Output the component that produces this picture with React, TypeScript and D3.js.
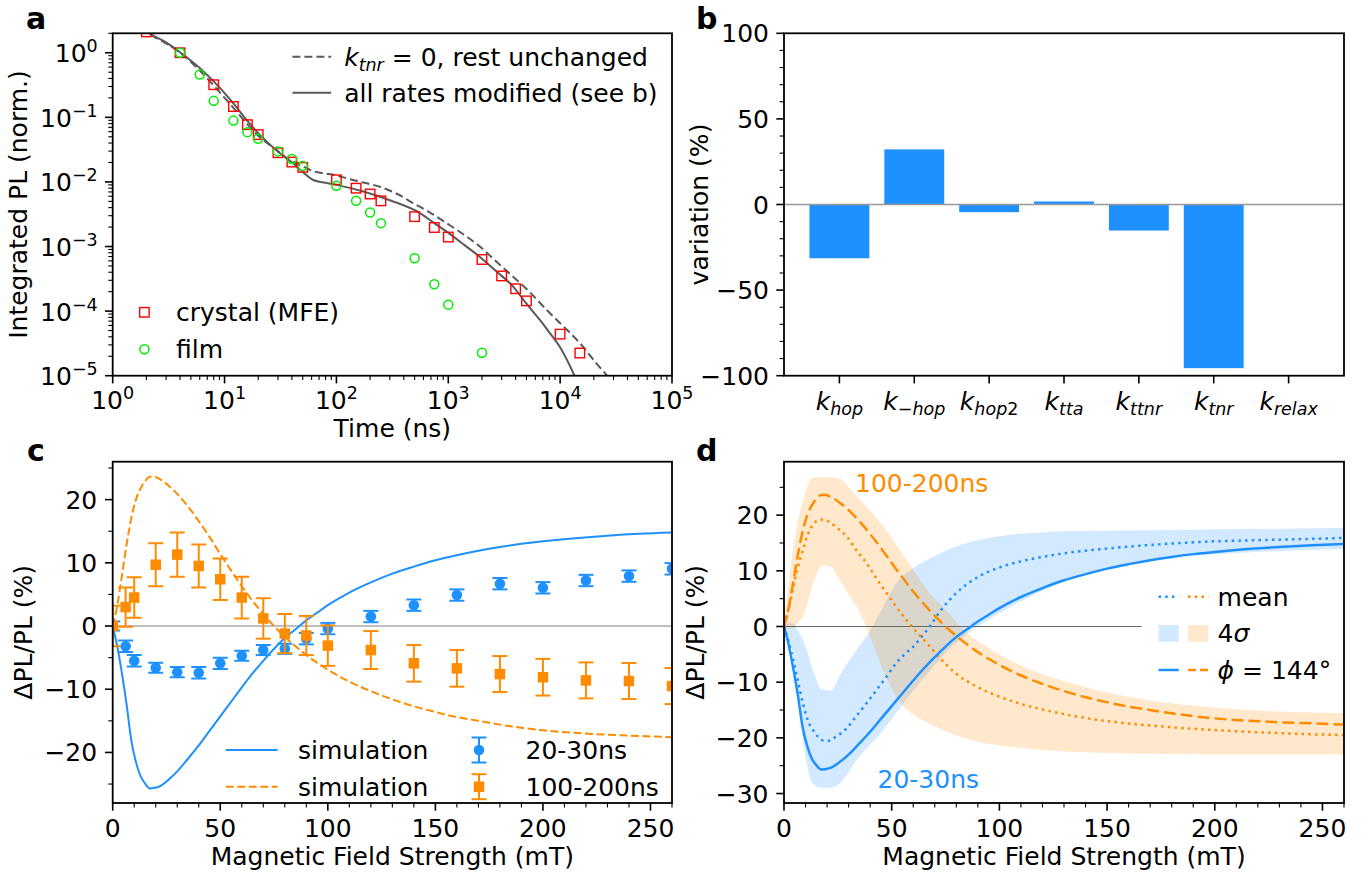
import React from 'react';
import * as d3 from 'd3';

const FONT = "'DejaVu Sans', 'Liberation Sans', sans-serif";
const FS = 25;
const SUB = 17.5;
const BLUE = '#1e90ff';
const ORANGE = '#ff8c00';
const MINUS = '\u2212';

// ---------------- panel a ----------------
const crystalTime = [2, 4, 8, 12, 16, 20, 30, 40, 50, 100, 150, 200, 250, 500, 750, 1000, 2000, 3000, 4000, 5000, 10000, 15000];
const crystalPL = [2.1, 1.0, 0.32, 0.147, 0.077, 0.054, 0.0283, 0.0203, 0.0168, 0.0108, 0.008, 0.0065, 0.0051, 0.0029, 0.00197, 0.0014, 0.00063, 0.00035, 0.000222, 0.000144, 0.000044, 0.0000224];
const filmTime = [4, 6, 8, 12, 16, 20, 30, 40, 50, 100, 150, 200, 250, 500, 750, 1000, 2000];
const filmPL = [1.0, 0.46, 0.18, 0.089, 0.059, 0.0466, 0.0297, 0.0226, 0.0176, 0.0087, 0.0051, 0.00336, 0.0023, 0.00066, 0.00026, 0.000126, 0.0000226];
const fitAllTime = [1.8, 2, 3, 4, 6, 8, 12, 16, 20, 31, 41, 50, 62, 80, 100, 174, 300, 557, 750, 966, 1400, 1915, 2700, 3800, 5000, 6590, 8000, 9930, 13100, 14000];
const fitAllPL = [2.5, 2.15, 1.45, 1.02, 0.58, 0.36, 0.165, 0.088, 0.057, 0.028, 0.0194, 0.0142, 0.0107, 0.0097, 0.009, 0.0071, 0.0052, 0.0033, 0.0023, 0.0017, 0.00105, 0.00069, 0.00041, 0.00024, 0.00013, 0.000073, 0.000047, 0.000028, 0.000011, 0.0000085];
const fitNoTnrTime = [1.8, 2, 3, 4, 6, 8, 12, 16, 20, 30, 36, 50, 62, 80, 100, 123, 170, 245, 350, 486, 700, 966, 1400, 1915, 2700, 3800, 5300, 7550, 10000, 15000, 21000, 28000, 30000];
const fitNoTnrPL = [2.45, 2.1, 1.4, 1.0, 0.53, 0.31, 0.14, 0.078, 0.052, 0.03, 0.0232, 0.0175, 0.0146, 0.0135, 0.0126, 0.0114, 0.0099, 0.0084, 0.0065, 0.0047, 0.0033, 0.0023, 0.0015, 0.001, 0.00058, 0.00034, 0.0002, 0.000105, 0.000065, 0.000032, 0.0000156, 0.0000085, 0.000007];

// ---------------- panel b ----------------
const rateSubs = ['hop', '-hop', 'hop2', 'tta', 'ttnr', 'tnr', 'relax'];
const rateVariation = [-31.4, 32.2, -4.5, 1.75, -15.2, -95.6, 0];

// ---------------- panel c ----------------
const fieldMeas = [0, 6, 10, 20, 30, 40, 50, 60, 70, 80, 90, 100, 120, 140, 160, 180, 200, 220, 240, 260];
const dpl2030 = [0, -3.2, -5.5, -6.6, -7.3, -7.4, -5.9, -4.7, -3.8, -3.6, -2.0, -0.4, 1.5, 3.3, 4.9, 6.7, 6.05, 7.2, 7.9, 9.05];
const err2030 = [0.7, 0.9, 0.9, 0.8, 0.8, 0.9, 0.9, 0.8, 0.8, 0.8, 0.9, 0.9, 0.9, 0.9, 0.9, 0.9, 0.9, 0.9, 0.9, 0.9];
const dpl100200 = [0, 3.0, 4.5, 9.7, 11.3, 9.5, 7.4, 4.5, 1.2, -1.2, -1.5, -3.1, -3.8, -5.9, -6.7, -7.6, -8.1, -8.6, -8.7, -9.5];
const err100200 = [3.2, 3.1, 3.2, 3.4, 3.5, 3.4, 3.3, 3.3, 3.2, 3.1, 3.1, 3.2, 3.0, 2.9, 2.9, 2.85, 2.9, 2.85, 2.85, 2.85];
const fieldSim = [0, 2, 4.3, 6.5, 8.6, 10.8, 13, 15, 17.3, 19.5, 21.6, 26, 30, 35, 40, 45, 50, 55, 60, 65, 70, 75, 80, 85, 90, 95, 100, 110, 120, 130, 140, 150, 160, 170, 180, 190, 200, 215, 230, 245, 260];
const sim2030 = [0, -3, -7.5, -12.5, -18, -21.5, -23.8, -24.9, -25.7, -25.6, -25.4, -24.3, -23, -21, -18.9, -16.6, -14.3, -12, -9.7, -7.5, -5.5, -3.6, -1.9, -0.5, 0.9, 2.1, 3.3, 5.3, 6.9, 8.3, 9.4, 10.4, 11.2, 11.9, 12.5, 13.0, 13.4, 13.9, 14.3, 14.6, 14.8];
const sim100200 = [0, 3, 8, 13, 17, 20, 21.8, 22.9, 23.6, 23.6, 23.3, 22.2, 20.9, 18.9, 16.6, 14.1, 11.4, 8.8, 6.3, 4.0, 1.9, 0, -1.7, -3.2, -4.6, -5.8, -6.9, -8.8, -10.3, -11.6, -12.7, -13.6, -14.4, -15.0, -15.6, -16.1, -16.5, -16.9, -17.2, -17.4, -17.6];

// ---------------- panel d ----------------
const fieldMean = [0, 2, 4, 6, 8.8, 11, 13.5, 16, 18.5, 21, 24, 29, 34, 38.3, 43, 47.6, 52, 56.8, 60, 64, 67.7, 72, 80, 90, 100, 110, 120, 135, 150, 165, 180, 200, 220, 240, 260];
const mean100200 = [0.3, 3, 6.5, 10, 13.8, 16.5, 18.3, 19.1, 19.2, 18.8, 17.9, 16.2, 13.5, 11.4, 8.6, 6, 3.6, 1.2, -0.3, -2, -3.6, -5.5, -8.5, -10.9, -12.6, -13.9, -14.9, -16.1, -17, -17.6, -18.1, -18.6, -19, -19.3, -19.5];
const mean2030 = [0, -2.5, -5.5, -9, -13.8, -16.8, -18.6, -19.9, -20.5, -20.5, -19.8, -18.3, -15.9, -13.8, -11.4, -9, -6.6, -4.7, -3.6, -1.8, 0, 2.5, 6.0, 8.9, 10.6, 11.7, 12.5, 13.4, 14.0, 14.5, 14.9, 15.3, 15.5, 15.7, 15.9];
const fieldBandBlue = [0, 2, 4.2, 6.5, 8.8, 10.8, 12.7, 15, 17.3, 22, 25.9, 30.5, 34, 38.3, 44.5, 52.2, 60, 67.7, 76, 88, 100, 115, 130, 150, 170, 190, 215, 240, 260];
const band2030Hi = [0.3, 0.6, 0.6, -0.8, -2.4, -4.5, -7, -9.5, -11.3, -11.5, -8.8, -6, -4, -1.8, 2.4, 7.8, 10.5, 12.2, 13.8, 15.3, 16.2, 16.8, 17.1, 17.2, 17.3, 17.4, 17.5, 17.6, 17.7];
const band2030Lo = [-0.5, -2.5, -4.8, -12, -20.4, -25, -27.8, -28.7, -29.0, -28.9, -28.2, -25.8, -23.8, -21.9, -19.3, -15.5, -11.5, -8, -4.3, -0.5, 2.4, 5.5, 8, 10.3, 11.8, 12.7, 13.3, 13.7, 13.9];
const fieldBandOrange = [0, 2, 4.2, 6.5, 8.8, 10.8, 12.7, 15, 17.3, 21.2, 25.9, 30, 35.2, 41.4, 47.6, 53.7, 60, 67.7, 75, 85, 97, 110, 125, 140, 160, 180, 200, 220, 240, 260];
const band100200Hi = [1.2, 7, 14, 19, 22.5, 25, 26.6, 26.8, 26.8, 26.8, 26.6, 25, 22.8, 20.2, 17.2, 13.8, 10.2, 6, 3, -1.2, -4.3, -7, -9.2, -10.9, -12.6, -13.8, -14.6, -15.1, -15.4, -15.6];
const band100200Lo = [-0.3, -0.4, -0.3, 0.8, 1.8, 4, 6.8, 9.2, 11, 10.8, 8.4, 5.8, 2.5, -3.3, -9.2, -13.5, -15.8, -17.5, -18.8, -20.2, -21.2, -21.8, -22.3, -22.6, -22.8, -22.9, -23, -23, -23, -23];

// tick values
const aMajorX = [0, 1, 2, 3, 4, 5];
const aMajorY = [-5, -4, -3, -2, -1, 0];
const cMajorX = [0, 50, 100, 150, 200, 250];
const cMajorY = [-20, -10, 0, 10, 20];
const dMajorY = [-30, -20, -10, 0, 10, 20];
const bMajorY = [-100, -50, 0, 50, 100];

// geometry
const L1 = 112.7, R1 = 672, L2 = 784, R2 = 1344;
const T1 = 33.3, B1 = 375.7, T2 = 461.7, B2 = 803;
const TL = 7.7, TLm = 4.4;

const fmt = (v: number) => (v < 0 ? MINUS + Math.abs(v) : String(v));
const zip = (a: number[], b: number[]) => a.map((v, i) => [v, b[i]] as [number, number]);

function Frame({ x0, x1, y0, y1 }: any) {
  return <rect x={x0} y={y0} width={x1 - x0} height={y1 - y0} fill="none" stroke="#000" strokeWidth={1.8} />;
}

export default function App() {
  const xA = d3.scaleLog().domain([1, 1e5]).range([L1, R1]);
  const yA = d3.scaleLog().domain([1e-5, 2]).range([B1, T1]);
  const xB = d3.scaleLinear().domain([-0.74, 6.74]).range([L2, R2]);
  const yB = d3.scaleLinear().domain([-100, 100]).range([B1, T1]);
  const xC = d3.scaleLinear().domain([0, 260]).range([L1, R1]);
  const yC = d3.scaleLinear().domain([-28, 26]).range([B2, T2]);
  const xD = d3.scaleLinear().domain([0, 260]).range([L2, R2]);
  const yD = d3.scaleLinear().domain([-31.7, 29.6]).range([B2, T2]);

  const lineA = d3.line<[number, number]>().x(d => xA(d[0])).y(d => yA(d[1])).curve(d3.curveMonotoneX);
  const lineC = d3.line<[number, number]>().x(d => xC(d[0])).y(d => yC(d[1])).curve(d3.curveMonotoneX);
  const lineD = d3.line<[number, number]>().x(d => xD(d[0])).y(d => yD(d[1])).curve(d3.curveMonotoneX);
  const areaD = d3.area<[number, number, number]>().x(d => xD(d[0])).y0(d => yD(d[1])).y1(d => yD(d[2])).curve(d3.curveMonotoneX);

  const aMinorX: number[] = [];
  for (let e = 0; e < 5; e++) for (let k = 2; k <= 9; k++) aMinorX.push(k * Math.pow(10, e));
  const aMinorY: number[] = [];
  for (let e = -5; e <= 0; e++) for (let k = 2; k <= 9; k++) { const v = k * Math.pow(10, e); if (v <= 2.0001) aMinorY.push(v); }
  const minorLinear = (lo: number, hi: number, step: number, majors: number[]) => d3.range(lo, hi + 0.001, step).filter(v => !majors.includes(v));
  const cMinorX = minorLinear(0, 260, 10, cMajorX);
  const cMinorY = [-25, -15, -5, 5, 15, 25];
  const dMinorY = [-25, -15, -5, 5, 15, 25];
  const bMinorY = minorLinear(-100, 100, 10, bMajorY);

  const xTickMarks = (sc: (v: number) => number, vals: number[], y: number, len: number, w: number, key: string) =>
    vals.map((v, i) => <line key={key + i} x1={sc(v)} x2={sc(v)} y1={y} y2={y + len} stroke="#000" strokeWidth={w} />);
  const yTickMarks = (sc: (v: number) => number, vals: number[], x: number, len: number, w: number, key: string) =>
    vals.map((v, i) => <line key={key + i} x1={x} x2={x - len} y1={sc(v)} y2={sc(v)} stroke="#000" strokeWidth={w} />);

  const pow10 = (e: number) => Math.pow(10, e);
  const supLabel = (e: number) => (e < 0 ? MINUS + Math.abs(e) : String(e));

  const markerSquare = (cx: number, cy: number, s: number, props: any, key: string) =>
    <rect key={key} x={cx - s / 2} y={cy - s / 2} width={s} height={s} {...props} />;

  const subLabel = (s: string) => {
    if (s.startsWith('-')) return [<tspan key="m" fontStyle="normal">{MINUS}</tspan>, <tspan key="t" fontStyle="italic">{s.slice(1)}</tspan>];
    const m = s.match(/^([a-z]+)(\d*)$/);
    if (m && m[2]) return [<tspan key="t" fontStyle="italic">{m[1]}</tspan>, <tspan key="d" fontStyle="normal">{m[2]}</tspan>];
    return [<tspan key="t" fontStyle="italic">{s}</tspan>];
  };

  const errBar = (cx: number, cy0: number, cy1: number, color: string, key: string) => (
    <g key={key}>
      <line x1={cx} x2={cx} y1={cy0} y2={cy1} stroke={color} strokeWidth={2} />
      <line x1={cx - 7.5} x2={cx + 7.5} y1={cy0} y2={cy0} stroke={color} strokeWidth={2} />
      <line x1={cx - 7.5} x2={cx + 7.5} y1={cy1} y2={cy1} stroke={color} strokeWidth={2} />
    </g>
  );

  return (
    <svg width={1369} height={879} viewBox="0 0 1369 879" style={{ position: 'absolute', left: 0, top: 0 }} fontFamily={FONT} fontSize={FS}>
      <rect x={0} y={0} width={1369} height={879} fill="#fff" />
      <defs>
        <clipPath id="clipA"><rect x={L1} y={T1} width={R1 - L1} height={B1 - T1} /></clipPath>
        <clipPath id="clipB"><rect x={L2} y={T1} width={R2 - L2} height={B1 - T1} /></clipPath>
        <clipPath id="clipC"><rect x={L1} y={T2} width={R1 - L1} height={B2 - T2} /></clipPath>
        <clipPath id="clipD"><rect x={L2} y={T2} width={R2 - L2} height={B2 - T2} /></clipPath>
      </defs>

      {/* ================= panel a ================= */}
      <g clipPath="url(#clipA)">
        <path d={lineA(zip(fitNoTnrTime, fitNoTnrPL)) || ''} fill="none" stroke="#5a5a5a" strokeWidth={2} strokeDasharray="8 4" />
        <path d={lineA(zip(fitAllTime, fitAllPL)) || ''} fill="none" stroke="#5a5a5a" strokeWidth={2} />
        {crystalTime.map((t, i) => markerSquare(xA(t), yA(crystalPL[i]), 9.5, { fill: 'none', stroke: '#ff0000', strokeWidth: 1.4 }, 'cr' + i))}
        {filmTime.map((t, i) => <circle key={'fi' + i} cx={xA(t)} cy={yA(filmPL[i])} r={4.5} fill="none" stroke="#00ee00" strokeWidth={1.5} />)}
      </g>
      <Frame x0={L1} x1={R1} y0={T1} y1={B1} />
      {xTickMarks(xA, aMajorX.map(pow10), B1, TL, 1.6, 'axM')}
      {xTickMarks(xA, aMinorX, B1, TLm, 1.1, 'axm')}
      {yTickMarks(yA, aMajorY.map(pow10), L1, TL, 1.6, 'ayM')}
      {yTickMarks(yA, aMinorY, L1, TLm, 1.1, 'aym')}
      {aMajorX.map(e => (
        <text key={'axl' + e} x={xA(pow10(e))} y={409} textAnchor="middle">10<tspan dy={-10} fontSize={SUB}>{supLabel(e)}</tspan></text>
      ))}
      {aMajorY.map(e => (
        <text key={'ayl' + e} x={L1 - 15} y={yA(pow10(e)) + 9.5} textAnchor="end">10<tspan dy={-10} fontSize={SUB}>{supLabel(e)}</tspan></text>
      ))}
      <text x={(L1 + R1) / 2} y={437} textAnchor="middle">Time (ns)</text>
      <text transform={`translate(26.5, ${(T1 + B1) / 2}) rotate(-90)`} textAnchor="middle">Integrated PL (norm.)</text>
      <line x1={292.4} x2={331.2} y1={56.7} y2={56.7} stroke="#5a5a5a" strokeWidth={2} strokeDasharray="8 4" />
      <text x={344.2} y={56.7 + 9}><tspan fontStyle="italic">k</tspan><tspan fontStyle="italic" fontSize={SUB} dy={5}>tnr</tspan><tspan dy={-5}> = 0, rest unchanged</tspan></text>
      <line x1={292.4} x2={331.2} y1={92.7} y2={92.7} stroke="#5a5a5a" strokeWidth={2} />
      <text x={344.2} y={92.7 + 9}>all rates modified (see b)</text>
      {markerSquare(144.4, 312.3, 9.5, { fill: 'none', stroke: '#ff0000', strokeWidth: 1.4 }, 'lgsq')}
      <text x={176} y={312.3 + 9}>crystal (MFE)</text>
      <circle cx={144.4} cy={349.3} r={4.5} fill="none" stroke="#00ee00" strokeWidth={1.5} />
      <text x={176} y={349.3 + 9}>film</text>

      {/* ================= panel b ================= */}
      <g clipPath="url(#clipB)">
        {rateVariation.map((v, i) => (
          <rect key={'bar' + i} x={xB(i - 0.4)} width={xB(0.8) - xB(0)} y={yB(Math.max(0, v))} height={Math.abs(yB(v) - yB(0))} fill={BLUE} />
        ))}
        <line x1={L2} x2={R2} y1={yB(0)} y2={yB(0)} stroke="#999" strokeWidth={1.6} />
      </g>
      <Frame x0={L2} x1={R2} y0={T1} y1={B1} />
      {xTickMarks(xB, rateSubs.map((_, i) => i), B1, TL, 1.6, 'bxM')}
      {yTickMarks(yB, bMajorY, L2, TL, 1.6, 'byM')}
      {yTickMarks(yB, bMinorY, L2, TLm, 1.1, 'bym')}
      {bMajorY.map(v => <text key={'byl' + v} x={L2 - 15} y={yB(v) + 9} textAnchor="end">{fmt(v)}</text>)}
      {rateSubs.map((s, i) => (
        <text key={'bxl' + i} x={xB(i)} y={410} textAnchor="middle"><tspan fontStyle="italic">k</tspan><tspan fontSize={SUB} dy={5}>{subLabel(s)}</tspan></text>
      ))}
      <text transform={`translate(708, ${(T1 + B1) / 2}) rotate(-90)`} textAnchor="middle">variation (%)</text>

      {/* ================= panel c ================= */}
      <g clipPath="url(#clipC)">
        <line x1={L1} x2={R1} y1={yC(0)} y2={yC(0)} stroke="#aaa" strokeWidth={1.6} />
        <path d={lineC(zip(fieldSim, sim2030)) || ''} fill="none" stroke={BLUE} strokeWidth={2} />
        <path d={lineC(zip(fieldSim, sim100200)) || ''} fill="none" stroke={ORANGE} strokeWidth={2} strokeDasharray="8 3.5" />
        {fieldMeas.map((f, i) => errBar(xC(f), yC(dpl2030[i] + err2030[i]), yC(dpl2030[i] - err2030[i]), BLUE, 'be' + i))}
        {fieldMeas.map((f, i) => <circle key={'bc' + i} cx={xC(f)} cy={yC(dpl2030[i])} r={5.3} fill={BLUE} />)}
        {fieldMeas.map((f, i) => errBar(xC(f), yC(dpl100200[i] + err100200[i]), yC(dpl100200[i] - err100200[i]), ORANGE, 'oe' + i))}
        {fieldMeas.map((f, i) => markerSquare(xC(f), yC(dpl100200[i]), 10.5, { fill: ORANGE }, 'os' + i))}
      </g>
      <Frame x0={L1} x1={R1} y0={T2} y1={B2} />
      {xTickMarks(xC, cMajorX, B2, TL, 1.6, 'cxM')}
      {xTickMarks(xC, cMinorX, B2, TLm, 1.1, 'cxm')}
      {yTickMarks(yC, cMajorY, L1, TL, 1.6, 'cyM')}
      {yTickMarks(yC, cMinorY, L1, TLm, 1.1, 'cym')}
      {cMajorX.map(v => <text key={'cxl' + v} x={xC(v)} y={837} textAnchor="middle">{fmt(v)}</text>)}
      {cMajorY.map(v => <text key={'cyl' + v} x={L1 - 15.5} y={yC(v) + 9} textAnchor="end">{fmt(v)}</text>)}
      <text x={(L1 + R1) / 2} y={865} textAnchor="middle">Magnetic Field Strength (mT)</text>
      <text transform={`translate(31.5, ${(T2 + B2) / 2}) rotate(-90)`} textAnchor="middle">ΔPL/PL (%)</text>
      <line x1={225.8} x2={277.6} y1={750} y2={750} stroke={BLUE} strokeWidth={2} />
      <text x={298} y={750 + 9}>simulation</text>
      <line x1={225.8} x2={277.6} y1={786.7} y2={786.7} stroke={ORANGE} strokeWidth={2} strokeDasharray="8 3.5" />
      <text x={298} y={786.7 + 9}>simulation</text>
      {errBar(479, 737.5, 762.5, BLUE, 'lge1')}
      <circle cx={479} cy={750} r={5.3} fill={BLUE} />
      <text x={525.5} y={750 + 9}>20-30ns</text>
      {errBar(479, 774.2, 799.2, ORANGE, 'lge2')}
      {markerSquare(479, 786.7, 10.5, { fill: ORANGE }, 'lgsq2')}
      <text x={525.5} y={786.7 + 9}>100-200ns</text>

      {/* ================= panel d ================= */}
      <g clipPath="url(#clipD)">
        <path d={areaD(fieldBandBlue.map((f, i) => [f, band2030Lo[i], band2030Hi[i]] as [number, number, number])) || ''} fill={BLUE} fillOpacity={0.2} />
        <path d={areaD(fieldBandOrange.map((f, i) => [f, band100200Lo[i], band100200Hi[i]] as [number, number, number])) || ''} fill={ORANGE} fillOpacity={0.2} />
        <line x1={xD(0)} x2={xD(166)} y1={yD(0)} y2={yD(0)} stroke="#666" strokeWidth={1.2} />
        <path d={lineD(zip(fieldMean, mean2030)) || ''} fill="none" stroke={BLUE} strokeWidth={2.5} strokeDasharray="2.5 4.2" />
        <path d={lineD(zip(fieldMean, mean100200)) || ''} fill="none" stroke={ORANGE} strokeWidth={2.5} strokeDasharray="2.5 4.2" />
        <path d={lineD(zip(fieldSim, sim2030)) || ''} fill="none" stroke={BLUE} strokeWidth={2.5} />
        <path d={lineD(zip(fieldSim, sim100200)) || ''} fill="none" stroke={ORANGE} strokeWidth={2.5} strokeDasharray="12 5" />
      </g>
      <Frame x0={L2} x1={R2} y0={T2} y1={B2} />
      {xTickMarks(xD, cMajorX, B2, TL, 1.6, 'dxM')}
      {xTickMarks(xD, cMinorX, B2, TLm, 1.1, 'dxm')}
      {yTickMarks(yD, dMajorY, L2, TL, 1.6, 'dyM')}
      {yTickMarks(yD, dMinorY, L2, TLm, 1.1, 'dym')}
      {cMajorX.map(v => <text key={'dxl' + v} x={xD(v)} y={837} textAnchor="middle">{fmt(v)}</text>)}
      {dMajorY.map(v => <text key={'dyl' + v} x={L2 - 15.5} y={yD(v) + 9} textAnchor="end">{fmt(v)}</text>)}
      <text x={(L2 + R2) / 2} y={865} textAnchor="middle">Magnetic Field Strength (mT)</text>
      <text transform={`translate(703.5, ${(T2 + B2) / 2}) rotate(-90)`} textAnchor="middle">ΔPL/PL (%)</text>
      <text x={855} y={492} fill={ORANGE}>100-200ns</text>
      <text x={877.5} y={788} fill={BLUE}>20-30ns</text>
      <line x1={1158.5} x2={1178.8} y1={596.7} y2={596.7} stroke={BLUE} strokeWidth={2.5} strokeDasharray="2.5 4.2" />
      <line x1={1188} x2={1208.4} y1={596.7} y2={596.7} stroke={ORANGE} strokeWidth={2.5} strokeDasharray="2.5 4.2" />
      <text x={1217.6} y={596.7 + 9}>mean</text>
      <rect x={1158.5} y={625} width={20.3} height={16.7} fill={BLUE} fillOpacity={0.2} />
      <rect x={1188} y={625} width={20.4} height={16.7} fill={ORANGE} fillOpacity={0.2} />
      <text x={1217.6} y={633.3 + 9}>4<tspan fontStyle="italic">σ</tspan></text>
      <line x1={1158.5} x2={1178.8} y1={670} y2={670} stroke={BLUE} strokeWidth={2.5} />
      <line x1={1188} x2={1208.4} y1={670} y2={670} stroke={ORANGE} strokeWidth={2.5} strokeDasharray="8 4" />
      <text x={1217.6} y={670 + 9}><tspan fontStyle="italic">ϕ</tspan> = 144°</text>

      {/* panel letters */}
      <text x={26} y={29} fontWeight="bold" fontSize={30}>a</text>
      <text x={696} y={29} fontWeight="bold" fontSize={30}>b</text>
      <text x={27} y={461} fontWeight="bold" fontSize={30}>c</text>
      <text x={696} y={461} fontWeight="bold" fontSize={30}>d</text>
    </svg>
  );
}
